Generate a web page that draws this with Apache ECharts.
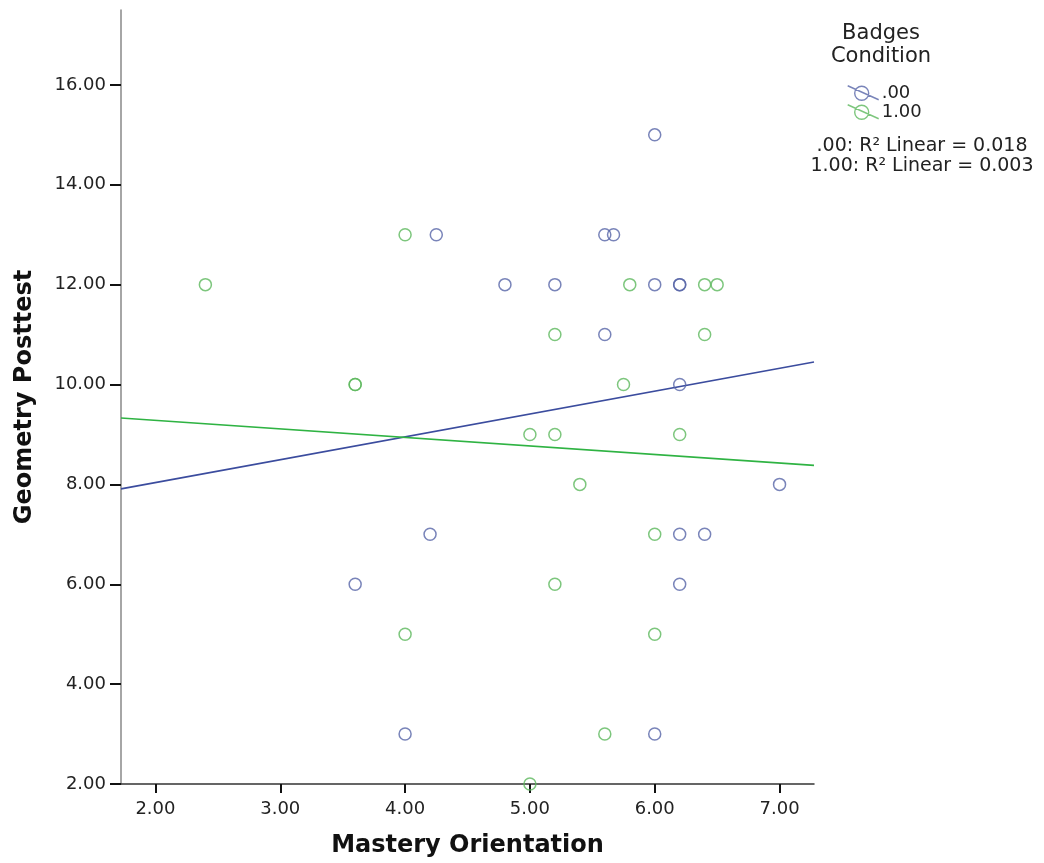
<!DOCTYPE html>
<html>
<head>
<meta charset="utf-8">
<script src="https://cdn.jsdelivr.net/npm/echarts@6/dist/echarts.min.js"></script>
<style>
  html, body { margin: 0; padding: 0; background: #fff; }
  #chart { width: 1044px; height: 863px; }
</style>
</head>
<body>
<div id="chart"></div>
<script>
// Badges condition .00 (blue) : [mastery orientation, geometry posttest]
var groupA = [
  [6.0, 15], [4.25, 13], [5.6, 13], [5.67, 13],
  [4.8, 12], [5.2, 12], [6.0, 12], [6.2, 12], [6.2, 12],
  [5.6, 11], [6.2, 10], [7.0, 8],
  [4.2, 7], [6.2, 7], [6.4, 7],
  [3.6, 6], [6.2, 6], [4.0, 3], [6.0, 3]
];
// Badges condition 1.00 (green)
var groupB = [
  [4.0, 13], [2.4, 12], [5.8, 12], [6.4, 12], [6.5, 12],
  [5.2, 11], [6.4, 11], [3.6, 10], [3.6, 10], [5.75, 10],
  [5.0, 9], [5.2, 9], [6.2, 9], [5.4, 8],
  [6.0, 7], [5.2, 6], [4.0, 5], [6.0, 5], [5.6, 3], [5.0, 2]
];
// fit lines read at the axis edges
var fitA = [[1.724, 7.91], [7.276, 10.45]];
var fitB = [[1.724, 9.33], [7.276, 8.38]];

var xTicks = [2, 3, 4, 5, 6, 7];
var yTicks = [2, 4, 6, 8, 10, 12, 14, 16];
var groupNames = ['.00', '1.00'];
var r2Lines = ['.00: R\u00b2 Linear = 0.018', '1.00: R\u00b2 Linear = 0.003'];

var BLUE = '#5865a8', GREEN = '#5cb85c';
var FONT = 'DejaVu Sans';

var chart = echarts.init(document.getElementById('chart'));
var option = {
    animation: false,
    textStyle: { fontFamily: FONT },
    grid: { left: 121, right: 230, top: 10, bottom: 79 },
    legend: {
        data: groupNames,
        orient: 'vertical',
        left: 842,
        top: 79,
        itemGap: 1,
        itemWidth: 31,
        itemHeight: 15,
        icon: 'path://M0,0 L31,14 M21,7.5 A7,7 0 1,1 7,7.5 A7,7 0 1,1 21,7.5 Z',
        itemStyle: { color: 'transparent', borderWidth: 1.4 },
        textStyle: { fontSize: 18, color: '#222', padding: [0, 0, 0, -2] }
    },
    graphic: [
        {
            type: 'text', x: 881, y: 34,
            style: { text: 'Badges', font: '21px ' + FONT, fill: '#222',
                     align: 'center', verticalAlign: 'middle' }
        },
        {
            type: 'text', x: 881, y: 57,
            style: { text: 'Condition', font: '21px ' + FONT, fill: '#222',
                     align: 'center', verticalAlign: 'middle' }
        },
        {
            type: 'text', x: 922, y: 156,
            style: { text: r2Lines.join('\n'), font: '19px ' + FONT, fill: '#222',
                     align: 'center', verticalAlign: 'middle', lineHeight: 20 }
        }
    ],
    xAxis: {
        type: 'value',
        min: 1.724,
        max: 7.276,
        name: 'Mastery Orientation',
        nameLocation: 'middle',
        nameGap: 50,
        nameTextStyle: { fontSize: 24, fontWeight: 'bold', color: '#111' },
        splitLine: { show: false },
        axisLine: { lineStyle: { color: '#333', width: 1.5 } },
        axisTick: { customValues: xTicks, length: 9, lineStyle: { color: '#111', width: 2 } },
        axisLabel: {
            customValues: xTicks, fontSize: 18, color: '#222', margin: 16,
            formatter: function (v) { return v.toFixed(2); }
        }
    },
    yAxis: {
        type: 'value',
        min: 2,
        max: 17.5,
        name: 'Geometry Posttest',
        nameLocation: 'middle',
        nameGap: 84,
        nameTextStyle: { fontSize: 24, fontWeight: 'bold', color: '#111' },
        splitLine: { show: false },
        axisLine: { lineStyle: { color: '#888', width: 1.5 } },
        axisTick: { customValues: yTicks, length: 11, lineStyle: { color: '#111', width: 2 } },
        axisLabel: {
            customValues: yTicks, fontSize: 18, color: '#222', margin: 15,
            formatter: function (v) { return v.toFixed(2); }
        }
    },
    series: [
        {
            name: groupNames[0], type: 'scatter', data: groupA,
            symbol: 'circle', symbolSize: 12,
            itemStyle: { color: 'transparent', borderColor: BLUE, borderWidth: 1.5 },
            z: 3
        },
        {
            name: groupNames[1], type: 'scatter', data: groupB,
            symbol: 'circle', symbolSize: 12,
            itemStyle: { color: 'transparent', borderColor: GREEN, borderWidth: 1.5 },
            z: 3
        },
        {
            name: 'fitA', type: 'line', data: fitA, symbol: 'none',
            lineStyle: { color: '#3b4c9e', width: 1.6 }, z: 2
        },
        {
            name: 'fitB', type: 'line', data: fitB, symbol: 'none',
            lineStyle: { color: '#2fb343', width: 1.6 }, z: 2
        }
    ]
};
chart.setOption(option);
</script>
</body>
</html>
